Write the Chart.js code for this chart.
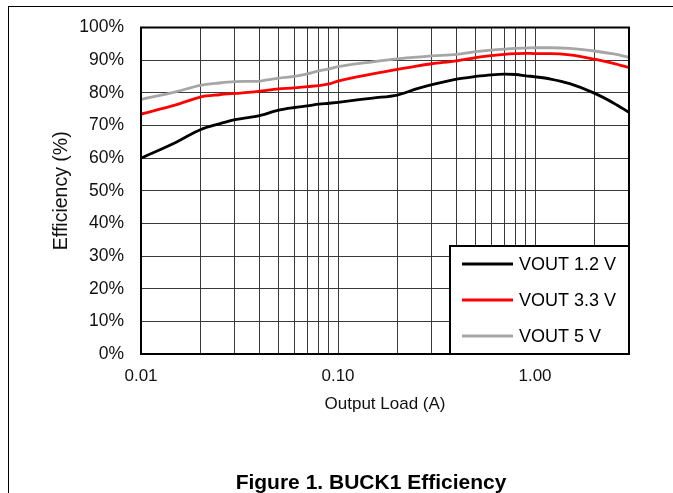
<!DOCTYPE html>
<html>
<head>
<meta charset="utf-8">
<script src="https://cdn.jsdelivr.net/npm/chart.js@4/dist/chart.umd.min.js"></script>
<style>
  html, body { margin: 0; padding: 0; background: #fff; }
  body { width: 673px; height: 493px; position: relative; overflow: hidden; font-family: "Liberation Sans", Arial, sans-serif; }
  #frame { position: absolute; left: 8px; top: 6px; right: -10px; bottom: -10px; border-left: 1.5px solid #000; border-top: 1.5px solid #000; }
  #wrap { position: absolute; left: 0; top: 0; width: 673px; height: 493px; }
  #caption { position: absolute; left: 371px; top: 470px; transform: translateX(-50%); font-weight: bold; font-size: 21px; line-height: 24px; color: #000; white-space: nowrap; }
</style>
</head>
<body>
<div id="frame"></div>
<div id="wrap"><canvas id="effChart" width="673" height="493"></canvas></div>
<div id="caption">Figure 1. BUCK1 Efficiency</div>
<script>
// output load (A)
const loads = [0.01, 0.015, 0.02, 0.025, 0.03, 0.035, 0.04, 0.05, 0.06, 0.07, 0.08, 0.09, 0.1,
  0.15, 0.2, 0.25, 0.3, 0.4, 0.5, 0.6, 0.7, 0.8, 0.9, 1.0, 1.2, 1.5, 2.0, 2.5, 3.0];

// efficiency (%)
const vout12 = [60.0, 64.8, 68.7, 70.5, 71.8, 72.4, 73.0, 74.7, 75.5, 76.0, 76.5, 76.8, 77.1,
  78.4, 79.3, 81.2, 82.5, 84.2, 85.0, 85.5, 85.7, 85.6, 85.2, 84.9, 84.2, 82.8, 79.9, 76.9, 74.0];
const vout33 = [73.5, 76.3, 78.7, 79.4, 79.8, 80.1, 80.5, 81.2, 81.5, 81.9, 82.2, 82.7, 83.6,
  85.8, 87.2, 88.2, 88.9, 89.8, 90.8, 91.4, 91.8, 92.0, 92.1, 92.0, 92.0, 91.6, 90.3, 89.0, 87.7];
const vout5 = [78.0, 80.3, 82.3, 83.0, 83.4, 83.5, 83.6, 84.5, 85.0, 85.8, 86.7, 87.3, 88.0,
  89.5, 90.4, 90.9, 91.3, 91.8, 92.6, 93.1, 93.4, 93.6, 93.7, 93.8, 93.8, 93.6, 92.8, 91.9, 90.9];

const seriesNames = ["VOUT 1.2 V", "VOUT 3.3 V", "VOUT 5 V"];
const seriesColors = ["#000000", "#ff0000", "#a6a6a6"];

// x grid lines and the labelled ones
const xGridValues = [0.01, 0.02, 0.03, 0.04, 0.05, 0.06, 0.07, 0.08, 0.09,
  0.1, 0.2, 0.3, 0.4, 0.5, 0.6, 0.7, 0.8, 0.9, 1, 2, 3];
const xLabelValues = [0.01, 0.1, 1];
const xLabelTexts = ["0.01", "0.10", "1.00"];

const FONT = "'Liberation Sans', Arial, sans-serif";

const toPoints = (ys) => loads.map((x, i) => ({ x, y: ys[i] }));

// box round the plot area
const frameBox = {
  id: "frameBox",
  afterDatasetsDraw(chart) {
    const { ctx, chartArea: a } = chart;
    ctx.save();
    ctx.strokeStyle = "#000";
    ctx.lineWidth = 2;
    ctx.strokeRect(a.left, a.top, a.right - a.left, a.bottom - a.top);
    ctx.restore();
  }
};

// legend drawn inside the plot, bottom right
const insideLegend = {
  id: "insideLegend",
  afterDraw(chart) {
    const { ctx, chartArea: a } = chart;
    const w = 179, h = 108;
    const left = a.right - w, top = a.bottom - h;
    ctx.save();
    ctx.fillStyle = "#fff";
    ctx.fillRect(left, top, w, h);
    ctx.strokeStyle = "#000";
    ctx.lineWidth = 2;
    ctx.strokeRect(left, top, w, h);
    ctx.font = "18px " + FONT;
    ctx.textBaseline = "middle";
    chart.data.datasets.forEach((ds, i) => {
      const y = top + 18 + i * 36;
      ctx.strokeStyle = ds.borderColor;
      ctx.lineWidth = 3;
      ctx.beginPath();
      ctx.moveTo(left + 12, y);
      ctx.lineTo(left + 63, y);
      ctx.stroke();
      ctx.fillStyle = "#000";
      ctx.fillText(ds.label, left + 69, y + 1);
    });
    ctx.restore();
  }
};

new Chart(document.getElementById("effChart"), {
  type: "line",
  data: {
    datasets: [vout12, vout33, vout5].map((ys, i) => ({
      label: seriesNames[i],
      data: toPoints(ys),
      borderColor: seriesColors[i],
      backgroundColor: seriesColors[i],
      borderWidth: 2.8,
      pointRadius: 0,
      tension: 0.4,
      cubicInterpolationMode: "monotone",
      fill: false
    }))
  },
  options: {
    responsive: false,
    animation: false,
    layout: { padding: { left: 0, top: 22, right: 44, bottom: 0 } },
    plugins: {
      legend: { display: false },
      tooltip: { enabled: false }
    },
    scales: {
      x: {
        type: "logarithmic",
        min: 0.01,
        max: 3,
        afterFit: (scale) => { scale.height = 139; },
        afterBuildTicks: (scale) => { scale.ticks = xGridValues.map((v) => ({ value: v })); },
        grid: { color: "#3a3a3a", lineWidth: 1, drawTicks: false },
        border: { color: "#000", width: 2 },
        ticks: {
          autoSkip: false,
          maxRotation: 0,
          padding: 12,
          color: "#111",
          font: { family: FONT, size: 17 },
          callback: (v) => {
            const k = xLabelValues.findIndex((l) => Math.abs(l - v) < 1e-9);
            return k >= 0 ? xLabelTexts[k] : "";
          }
        },
        title: {
          display: true,
          text: "Output Load (A)",
          color: "#111",
          font: { family: FONT, size: 17 },
          padding: { top: 0, bottom: 78 }
        }
      },
      y: {
        min: 0,
        max: 100,
        afterFit: (scale) => { scale.width = 141; },
        grid: { color: "#3a3a3a", lineWidth: 1, drawTicks: false },
        border: { color: "#000", width: 2 },
        ticks: {
          stepSize: 10,
          padding: 17,
          color: "#111",
          font: { family: FONT, size: 17.5 },
          callback: (v) => v + "%"
        },
        title: {
          display: true,
          text: "Efficiency (%)",
          color: "#111",
          font: { family: FONT, size: 19.5 },
          padding: { top: 50, bottom: 0 }
        }
      }
    }
  },
  plugins: [frameBox, insideLegend]
});
</script>
</body>
</html>
